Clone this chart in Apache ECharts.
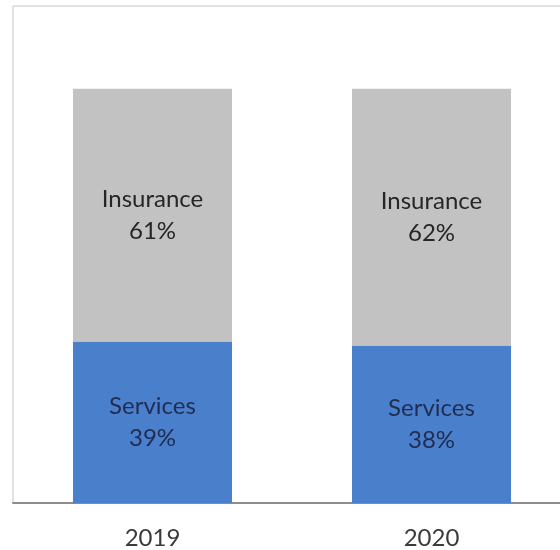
<!DOCTYPE html>
<html>
<head>
<meta charset="utf-8">
<script src="https://cdn.jsdelivr.net/npm/echarts@6/dist/echarts.min.js"></script>
<style>
  html, body { margin: 0; padding: 0; background: #ffffff; overflow: hidden; }
  #chart { width: 580px; height: 550px; }
</style>
</head>
<body>
<div id="chart"></div>
<script>
// Revenue mix by year (share of total, %)
const years = ['2019', '2020'];
const servicesShare = [39, 38];
const insuranceShare = [61, 62];

const chart = echarts.init(document.getElementById('chart'), null, { renderer: 'canvas' });

const labelFont = 'Lato, "Open Sans", "Liberation Sans", sans-serif';

chart.setOption({
  animation: false,
  backgroundColor: '#ffffff',
  grid: {
    left: 13,
    top: 6,
    width: 558,
    height: 497,
    show: true,
    borderColor: '#c4c4c4',
    borderWidth: 1,
    backgroundColor: 'transparent'
  },
  xAxis: {
    type: 'category',
    data: years,
    axisLine: { show: true, lineStyle: { color: '#8c8c8c', width: 2 } },
    axisTick: { show: false },
    axisLabel: {
      margin: 23,
      fontSize: 24,
      color: '#3a3a3a',
      fontFamily: labelFont
    }
  },
  yAxis: {
    type: 'value',
    min: 0,
    max: 120,
    show: false,
    splitLine: { show: false }
  },
  series: [
    {
      name: 'Services',
      type: 'bar',
      stack: 'mix',
      barWidth: '57%',
      data: servicesShare,
      itemStyle: { color: '#4a7fcb' },
      label: {
        show: true,
        position: 'inside',
        formatter: p => 'Services\n' + p.value + '%',
        color: '#1f2d52',
        fontSize: 24,
        lineHeight: 32,
        fontFamily: labelFont
      }
    },
    {
      name: 'Insurance',
      type: 'bar',
      stack: 'mix',
      barWidth: '57%',
      data: insuranceShare,
      itemStyle: { color: '#c2c2c2' },
      label: {
        show: true,
        position: 'inside',
        formatter: p => 'Insurance\n' + p.value + '%',
        color: '#262626',
        fontSize: 24,
        lineHeight: 32,
        fontFamily: labelFont
      }
    }
  ]
});
</script>
</body>
</html>
